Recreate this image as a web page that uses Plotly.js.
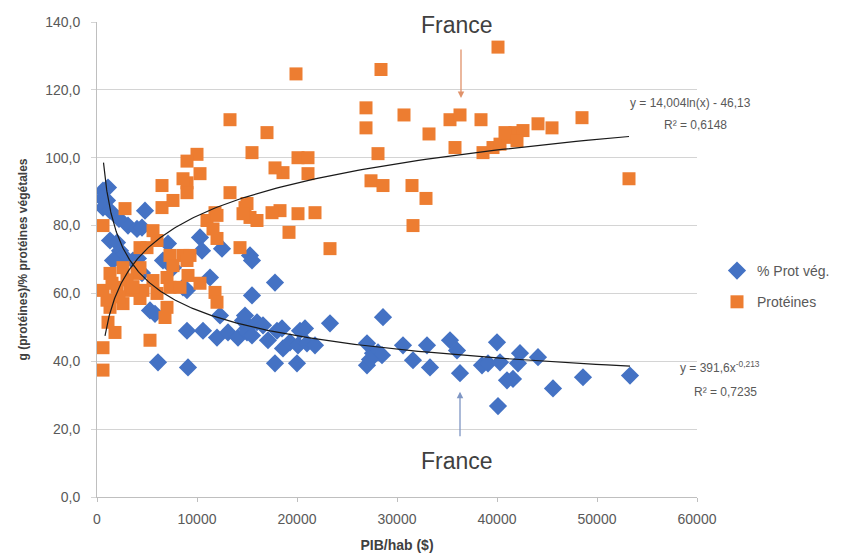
<!DOCTYPE html>
<html>
<head>
<meta charset="utf-8">
<script src="https://cdn.plot.ly/plotly-3.0.1.min.js"></script>
<style>html,body{margin:0;padding:0;background:#fff;}#chart{width:845px;height:554px;}</style>
</head>
<body>
<div id="chart"></div>
<script>
// PIB/hab ($) and values
const protX = [40100,19900,28400,13300,17000,26900,26900,30700,33200,35300,36300,38400,44100,45500,48500,53200,
  35800,38600,39600,40300,41100,41800,42600,40800,42000,28100,27400,28600,31500,31600,32900,20100,21100,21100,
  18600,17800,18300,20100,21800,19200,23300,15500,14800,15300,16000,17500,14300,10000,9000,10300,9000,8600,9000,
  6500,13300,15000,11800,11000,12000,6500,7600,2800,600,11600,12000,5600,6000,4300,5000,7300,8600,9300,14600,
  4300,1300,2600,4000,2000,600,3300,4600,5600,6000,7000,7300,1300,2600,4300,1100,1800,600,5300,600,7000,6800,
  9100,10300,11800,12000,7600,9000,8300,1500,3000,2200,1000,3600];
const protY = [132.6,124.7,126,111.2,107.4,114.7,108.8,112.6,107,111.2,112.6,111.2,110,108.8,111.8,93.8,
  103,101.5,103,104,106,107.4,108,107.4,105,101.2,93.2,91.8,91.8,80,88,100,100,95.3,
  95.6,97,84.4,83.5,83.8,78,73.2,101.5,85.3,82.4,81.5,83.8,73.5,101,99,95.3,92.6,93.8,89.7,
  91.8,89.7,86.5,83.8,81.5,83,85.3,87.4,85,80,79,76.2,78.5,75.6,73.5,73.5,71.2,71.2,71.2,83.5,
  67.6,65.9,67.6,65.9,61.8,60.9,60.9,60.9,63.8,60,64.7,61.8,55.9,57,58.5,51.5,48.5,44,46.2,37.4,55.9,52.9,
  65.3,63,60.3,57.4,68.2,69.7,61.8,63,64,59,58,62];

const vegX = [600,1100,500,1000,600,1300,4800,3100,4000,4500,1300,2000,2300,2600,4100,7100,10300,10500,12500,15300,
  6600,7600,8600,11300,5300,5800,9000,10600,12000,13100,14100,14600,15000,12300,6100,9100,15500,17800,14800,16000,
  16600,15000,15500,17100,18000,18500,18600,19300,20300,20800,20100,21000,21800,17800,20000,23300,28600,27000,27600,
  28100,28500,30600,31600,33000,33300,35300,36000,36300,38500,39100,40000,40300,41000,40100,42300,42100,44100,45600,
  48600,53300,27000,9000,15500,1600,3600,4500,2200,41600,27300];
const vegY = [90.3,91.2,88,87.4,85.3,84.4,84.4,80,79,79.4,75.6,75,72.6,71.2,70.3,74.7,76.5,72.6,73.2,71.2,
  69.7,67.6,61.8,64.7,55,54,49,49,47,48.5,47,52,49.7,53.5,39.7,38.2,59.4,63.2,53.5,51.5,
  50.6,48.5,47.6,46.2,49,49.7,43.8,45.6,49,49.7,44.7,45.3,44.7,39.4,39.4,51.2,53,45.3,42.4,
  42.6,41.8,44.7,40.3,44.7,38.2,46.2,43.2,36.5,38.8,39.4,45.6,39.7,34.4,26.8,42.4,39.4,41.2,32,
  35.3,35.8,38.8,61,69.7,69.7,69.7,66,82,34.8,40.5];

// Trendline equations printed on the chart
const logA = 14.004, logB = -46.13;      // y = a ln(x) + b  (Protéines)
const powA = 391.6, powB = -0.213;       // y = a x^b        (% Prot vég.)

const xAxisTicks = [0,10000,20000,30000,40000,50000,60000];
const yAxisTicks = [0,20,40,60,80,100,120,140];

function curve(fn, x0, x1, n) {
  const xs = [], ys = [];
  for (let i = 0; i <= n; i++) {
    const x = x0 * Math.pow(x1 / x0, i / n);
    xs.push(x); ys.push(fn(x));
  }
  return {xs, ys};
}
const logC = curve(x => logA * Math.log(x) + logB, 800, 53200, 200);
const powC = curve(x => powA * Math.pow(x, powB), 650, 53300, 200);

const FONT = 'Liberation Sans, Arial, sans-serif';
const traces = [
  {x: vegX, y: vegY, type: 'scatter', mode: 'markers', name: '% Prot vég.', legendgroup: 'a',
   marker: {symbol: 'diamond', size: 14, color: '#4472C4'}},
  {x: protX, y: protY, type: 'scatter', mode: 'markers', name: 'Protéines', legendgroup: 'b',
   marker: {symbol: 'square', size: 13, color: '#ED7D31'}},
  {x: logC.xs, y: logC.ys, type: 'scatter', mode: 'lines', showlegend: false, hoverinfo: 'skip',
   line: {color: '#1a1a1a', width: 1.2}},
  {x: powC.xs, y: powC.ys, type: 'scatter', mode: 'lines', showlegend: false, hoverinfo: 'skip',
   line: {color: '#1a1a1a', width: 1.2}}
];

const layout = {
  width: 845, height: 554,
  margin: {l: 97, r: 148, t: 22, b: 57},
  paper_bgcolor: '#fff', plot_bgcolor: '#fff',
  separators: ', ',
  font: {family: FONT, color: '#595959', size: 12},
  showlegend: true,
  legend: {xref: 'container', yref: 'container', x: 717 / 845, y: 1 - 255 / 554,
           xanchor: 'left', yanchor: 'top', tracegroupgap: 10, itemwidth: 30,
           font: {size: 14, color: '#595959'}, bgcolor: 'rgba(0,0,0,0)'},
  xaxis: {range: [0, 60000], tickvals: xAxisTicks, tickformat: 'd', showgrid: false, zeroline: false,
          showline: true, linecolor: '#bfbfbf', ticks: 'outside', ticklen: 4, tickcolor: '#bfbfbf',
          ticklabelstandoff: 5,
          tickfont: {size: 14, color: '#595959'}, automargin: false,
          title: {text: '<b>PIB/hab ($)</b>', font: {size: 14, color: '#404040'}, standoff: 14}},
  yaxis: {range: [0, 140], tickvals: yAxisTicks, tickformat: '.1f', showgrid: true, gridcolor: '#d4d4d4',
          zeroline: false, showline: true, linecolor: '#bfbfbf', ticks: 'outside', ticklen: 5, tickcolor: '#d4d4d4',
          ticklabelstandoff: 8,
          tickfont: {size: 14, color: '#595959'}, automargin: false,
          title: {text: '<b>g (protéines)/% protéines végétales</b>', font: {size: 12, color: '#404040'}, standoff: 14}},
  annotations: [
    {x: 36000, y: 139, xref: 'x', yref: 'y', text: 'France', showarrow: false, yanchor: 'middle',
     font: {size: 23, color: '#404040'}},
    {x: 36400, y: 117.6, xref: 'x', yref: 'y', text: '', showarrow: true, ax: 0, ay: -50,
     arrowcolor: '#e0926a', arrowwidth: 1.3, arrowhead: 2, arrowsize: 1},
    {x: 36000, y: 10.5, xref: 'x', yref: 'y', text: 'France', showarrow: false, yanchor: 'middle',
     font: {size: 23, color: '#404040'}},
    {x: 36300, y: 31, xref: 'x', yref: 'y', text: '', showarrow: true, ax: 0, ay: 46,
     arrowcolor: '#7f96c4', arrowwidth: 1.3, arrowhead: 2, arrowsize: 1},
    {x: 690, y: 103, xref: 'paper', yref: 'paper', text: 'y = 14,004ln(x) - 46,13', showarrow: false,
     font: {size: 12, color: '#595959'}},
    {x: 695, y: 125, xref: 'paper', yref: 'paper', text: 'R² = 0,6148', showarrow: false,
     font: {size: 12, color: '#595959'}},
    {x: 720, y: 367, xref: 'paper', yref: 'paper', text: 'y = 391,6x<sup>-0,213</sup>', showarrow: false,
     font: {size: 12, color: '#595959'}},
    {x: 725, y: 392, xref: 'paper', yref: 'paper', text: 'R² = 0,7235', showarrow: false,
     font: {size: 12, color: '#595959'}}
  ]
};
// convert pixel-placed label positions into paper coordinates
layout.annotations.forEach(a => {
  if (a.xref === 'paper') {
    a.x = (a.x - 97) / 600;
    a.y = (497 - a.y) / 475;
    a.xanchor = 'center';
    a.yanchor = 'middle';
  }
});

Plotly.newPlot('chart', traces, layout, {displayModeBar: false, staticPlot: true});
</script>
</body>
</html>
